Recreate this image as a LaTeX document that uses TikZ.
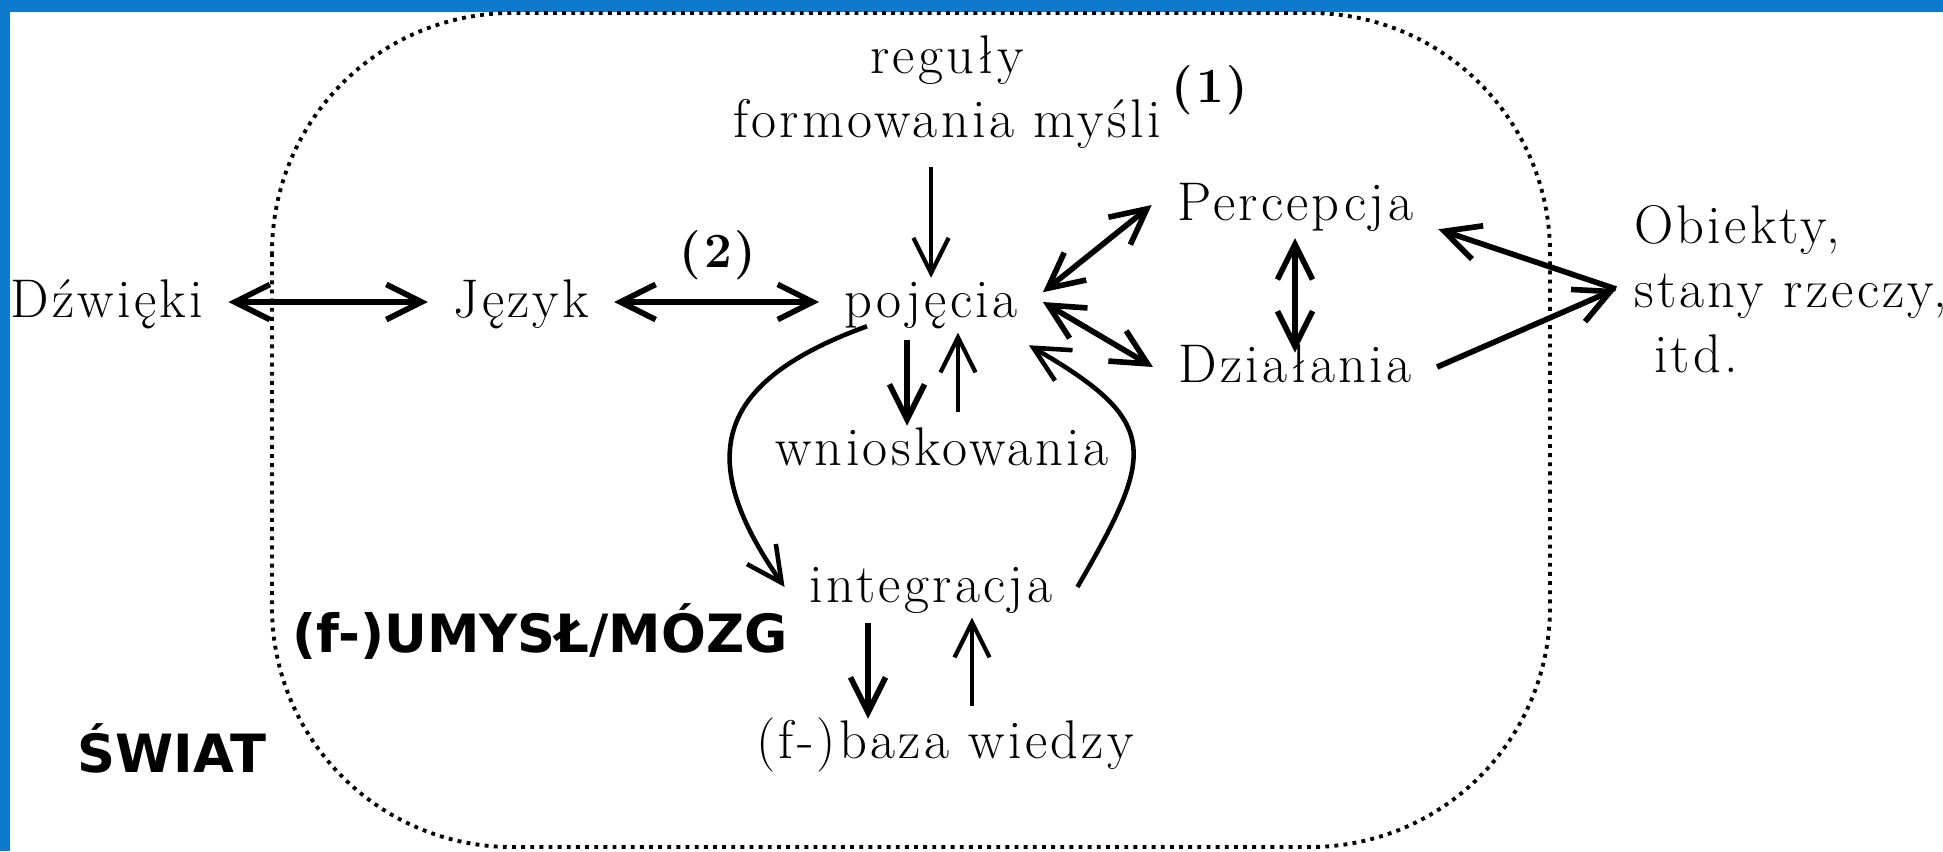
\documentclass[tikz,border=0pt]{standalone}
\usepackage{fontspec}
\setmainfont{Latin Modern Roman}[LetterSpace=6]
\setsansfont{DejaVu Sans}
\usetikzlibrary{arrows.meta}
\definecolor{brzeg}{RGB}{14,122,206}

\begin{document}
\begin{tikzpicture}[node distance=1.62cm, >={Straight Barb[length=10pt, width=10pt]},
    lbl/.style={font=\fontsize{15.5}{18.3}\selectfont, text height=11pt, text depth=2.4pt, inner xsep=7pt, inner ysep=0pt},
    num/.style={font=\fontsize{14}{17}\selectfont\bfseries, inner sep=0pt},
    tytul/.style={font=\fontsize{15}{18}\selectfont\sffamily\bfseries, inner sep=0pt, anchor=base},
    arr/.style={line width=1.6pt, ->},
    darr/.style={line width=1.6pt, <->},
    cienka/.style={line width=1.2pt, ->},
    ramka/.style={line width=1.1pt, dash pattern=on 1.1pt off 1.5pt, rounded corners=2.4cm}]

    % tlo i niebieski brzeg
    \useasboundingbox (0,0) rectangle (19.43,-8.51);
    \fill[white] (0,0) rectangle (19.43,-8.51);
    \fill[brzeg] (0,0) rectangle (19.43,-0.12);
    \fill[brzeg] (0,0) rectangle (0.10,-8.51);

    % granica umyslu
    \draw[ramka] (2.72,-0.13) rectangle (15.50,-8.47);

    % Wezly
    \node[lbl] (dzwieki) at (1.07,-3.02) {Dźwięki};
    \node[lbl] (jezyk) at (5.21,-3.02) {Język};
    \node[lbl] (pojecia) at (9.31,-3.02) {pojęcia};
    \node[font=\fontsize{15.5}{18.3}\selectfont, align=center, inner sep=0pt] (reguly) at (9.47,-0.92) {reguły\\formowania myśli};
    \node[num] (jeden) at (12.10,-0.90) {(1)};
    \node[num] (dwa) at (7.18,-2.55) {(2)};
    \node[lbl] (percepcja) at (12.95,-2.05) {Percepcja};
    \node[lbl, below of=percepcja] (dzialania) {Działania};
    \node[font=\fontsize{15.5}{18.3}\selectfont, align=left, inner xsep=5pt, anchor=west] (obiekty) at (16.16,-2.89) {Obiekty,\\stany rzeczy,\\~itd.};
    \node[lbl] (wnioskowania) at (9.42,-4.50) {wnioskowania};
    \node[lbl] (integracja) at (9.31,-5.87) {integracja};
    \node[lbl] (baza) at (9.45,-7.43) {(f-)baza wiedzy};
    \node[tytul] (umysl) at (5.40,-6.52) {(f-)UMYSŁ/MÓZG};
    \node[tytul] (swiat) at (1.72,-7.72) {ŚWIAT};

    % Strzalki poziome
    \draw[darr] (dzwieki) -- (jezyk);
    \draw[darr] (jezyk) -- (pojecia);
    \draw[cienka, shorten <=5pt] (reguly.south -| pojecia.north) -- (pojecia.north);

    % Percepcja, dzialania, obiekty
    \draw[darr] (pojecia.5) -- (percepcja.west);
    \draw[darr] (pojecia.east) -- (dzialania.west);
    \draw[darr, shorten <=2.5pt, shorten >=-2.8pt] (percepcja.south) -- (dzialania.north);
    \draw[arr] (obiekty.west) -- (percepcja.south east);
    \draw[arr] (dzialania.east) -- (obiekty.west);

    % Wnioskowania i integracja
    \draw[arr, shorten <=4pt] ([xshift=-0.24cm]pojecia.south) -- ([xshift=-0.35cm]wnioskowania.north);
    \draw[cienka, shorten <=3.8pt, shorten >=1.8pt] ([xshift=0.16cm]wnioskowania.north) -- ([xshift=0.27cm]pojecia.south);
    \draw[arr, line width=1.3pt] ([xshift=-0.64cm]pojecia.south) to[out=200, in=125, looseness=1.5] (integracja.west);
    \draw[arr, line width=1.3pt] (integracja.east) to[out=60, in=-30, looseness=1.6] ([shift={(-0.14,-0.19)}]pojecia.south east);

    % Baza wiedzy
    \draw[arr, shorten <=3.3pt] ([xshift=-0.63cm]integracja.south) -- ([xshift=-0.77cm]baza.north);
    \draw[cienka, shorten <=3.5pt, shorten >=1.8pt] ([xshift=0.27cm]baza.north) -- ([xshift=0.41cm]integracja.south);

\end{tikzpicture}
\end{document}
